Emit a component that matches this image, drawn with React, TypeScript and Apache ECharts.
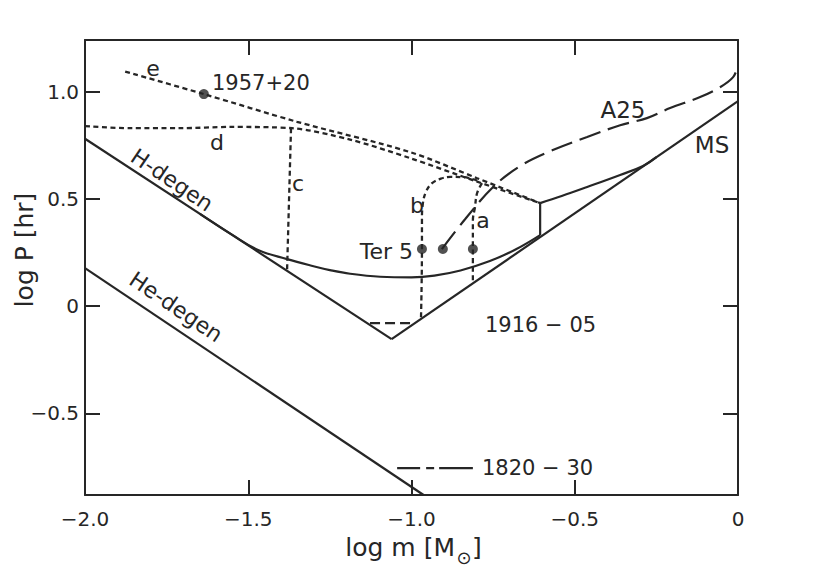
import React, { useEffect, useRef } from "react";
import * as echarts from "echarts";

// ---- axis ticks ----
const xTicks = [-2.0, -1.5, -1.0, -0.5, 0];
const yTicks = [-0.5, 0, 0.5, 1.0];

// ---- solid lines ----
const hDegen = [[-2.0, 0.78], [-1.061, -0.154]];
const msLine = [[-1.061, -0.154], [0, 0.955]];
const heDegen = [[-2.0, 0.177], [-0.963, -0.88]];
const periodMinLower = [
  [-1.648, 0.43], [-1.55, 0.333], [-1.47, 0.262], [-1.381, 0.219], [-1.3, 0.186],
  [-1.25, 0.168], [-1.188, 0.151], [-1.096, 0.137], [-1.0, 0.134], [-0.93, 0.142],
  [-0.85, 0.166], [-0.76, 0.21], [-0.68, 0.265], [-0.606, 0.331],
];
const bridge = [[-0.606, 0.331], [-0.606, 0.48]];
const periodMinUpper = [
  [-0.606, 0.48], [-0.54, 0.513], [-0.462, 0.555], [-0.361, 0.611], [-0.291, 0.653], [-0.25, 0.694],
];

// ---- evolutionary tracks (dashed) ----
const trackE = [
  [-1.877, 1.093], [-1.636, 0.988], [-1.351, 0.859], [-1.005, 0.718], [-0.799, 0.596], [-0.606, 0.48],
];
const trackD = [
  [-2.0, 0.839], [-1.862, 0.829], [-1.709, 0.829], [-1.556, 0.835], [-1.366, 0.829],
  [-1.188, 0.776], [-1.005, 0.69], [-0.799, 0.58], [-0.606, 0.48],
];
const trackC = [[-1.369, 0.829], [-1.381, 0.172]];
const trackB = [
  [-0.799, 0.585], [-0.842, 0.601], [-0.88, 0.602], [-0.91, 0.594], [-0.937, 0.573],
  [-0.955, 0.535], [-0.965, 0.48], [-0.968, 0.4], [-0.968, 0.266], [-0.971, -0.061],
];
const trackBBottom = [[-1.127, -0.079], [-0.995, -0.079]];
const trackA = [
  [-0.784, 0.573], [-0.799, 0.527], [-0.806, 0.457], [-0.812, 0.4], [-0.812, 0.266], [-0.812, 0.107],
];
const trackA25 = [
  [-0.907, 0.266], [-0.836, 0.405], [-0.75, 0.555], [-0.668, 0.652], [-0.567, 0.727],
  [-0.462, 0.788], [-0.361, 0.843], [-0.279, 0.876], [-0.208, 0.923], [-0.116, 0.974],
  [-0.055, 1.02], [-0.015, 1.067], [0, 1.12],
];
const track1820 = [[-1.044, -0.755], [-0.812, -0.755]];

// ---- observed systems ----
const dots = [[-1.636, 0.988], [-0.968, 0.266], [-0.904, 0.266], [-0.812, 0.266]];

const INK = "#262626";
const FONT = "DejaVu Sans";

const fmt = (v: number) =>
  Math.abs(v) < 1e-9 ? "0" : (v < 0 ? "\u2212" : "") + Math.abs(v).toFixed(1);

function line(data: number[][], type: any, width = 2.2, smooth: any = false) {
  return {
    type: "line",
    data,
    smooth,
    symbol: "none",
    silent: true,
    lineStyle: { color: INK, width, type, cap: "butt" },
    z: 3,
  };
}

function label(text: string, x: number, y: number, opts: any = {}) {
  return {
    type: "text",
    x,
    y,
    rotation: opts.rotation || 0,
    style: {
      text,
      fill: INK,
      font: `${opts.size || 22}px "${FONT}"`,
      align: opts.align || "center",
      verticalAlign: "middle",
    },
    z: 10,
  };
}

export default function App() {
  const ref = useRef<HTMLDivElement>(null);
  useEffect(() => {
    if (!ref.current) return;
    const chart = echarts.init(ref.current, null, { renderer: "svg" });
    const dot = [5, 3.5];
    const rot = (-34 * Math.PI) / 180;
    const axisCommon = {
      axisLine: { show: true, onZero: false, lineStyle: { color: INK, width: 2 } },
      splitLine: { show: false },
    };
    chart.setOption({
      animation: false,
      backgroundColor: "#ffffff",
      grid: { left: 85, right: 92, top: 40, bottom: 86 },
      xAxis: [
        {
          type: "value",
          min: -2,
          max: 0,
          interval: 0.5,
          ...axisCommon,
          axisTick: { show: true, inside: true, length: 15, customValues: xTicks, lineStyle: { color: INK, width: 2 } },
          axisLabel: {
            customValues: xTicks,
            formatter: fmt,
            color: INK,
            fontFamily: FONT,
            fontSize: 20,
            margin: 14,
            showMinLabel: true,
            showMaxLabel: true,
          },
        },
        {
          type: "value",
          position: "top",
          min: -2,
          max: 0,
          interval: 0.5,
          ...axisCommon,
          axisTick: { show: true, inside: true, length: 15, customValues: xTicks, lineStyle: { color: INK, width: 2 } },
          axisLabel: { show: false },
        },
      ],
      yAxis: [
        {
          type: "value",
          min: -0.88,
          max: 1.24,
          ...axisCommon,
          axisTick: { show: true, inside: true, length: 15, customValues: yTicks, lineStyle: { color: INK, width: 2 } },
          axisLabel: {
            customValues: yTicks,
            formatter: fmt,
            color: INK,
            fontFamily: FONT,
            fontSize: 20,
            margin: 6,
          },
        },
        {
          type: "value",
          position: "right",
          min: -0.88,
          max: 1.24,
          ...axisCommon,
          axisTick: { show: true, inside: true, length: 15, customValues: yTicks, lineStyle: { color: INK, width: 2 } },
          axisLabel: { show: false },
        },
      ],
      series: [
        line(hDegen, "solid"),
        line(msLine, "solid"),
        line(heDegen, "solid"),
        line(periodMinLower, "solid", 2.2, 0.4),
        line(bridge, "solid"),
        line(periodMinUpper, "solid", 2.2, 0.4),
        line(trackE, dot, 2.3, 0.3),
        line(trackD, dot, 2.3, 0.3),
        line(trackC, dot, 2.3),
        line(trackB, dot, 2.3, 0.4),
        line(trackBBottom, [10, 5], 2.2),
        line(trackA, dot, 2.3, 0.4),
        line(trackA25, [22, 8], 2.2, 0.35),
        line(track1820, [23, 6, 8, 5, 60, 1], 2.2),
        {
          type: "scatter",
          data: dots,
          symbol: "circle",
          symbolSize: 10,
          itemStyle: { color: INK },
          silent: true,
          z: 5,
        },
      ],
      graphic: [
        label("e", 153, 68),
        label("1957+20", 212, 83, { align: "left", size: 21 }),
        label("d", 217, 142),
        label("H-degen", 172, 180, { rotation: rot, size: 22 }),
        label("c", 298, 183),
        label("b", 417, 205),
        label("a", 483, 220),
        label("Ter 5", 413, 251, { align: "right" }),
        label("A25", 623, 110, { size: 23 }),
        label("MS", 712, 145, { size: 23 }),
        label("1916 \u2212 05", 485, 325, { align: "left", size: 21 }),
        label("1820 \u2212 30", 482, 468, { align: "left", size: 21 }),
        label("He-degen", 176, 307, { rotation: rot, size: 22 }),
        {
          type: "text",
          x: 24,
          y: 250,
          rotation: Math.PI / 2,
          style: {
            text: "log P [hr]",
            fill: INK,
            font: `25px "${FONT}"`,
            align: "center",
            verticalAlign: "middle",
          },
        },
        label("log m [M", 455, 547, { align: "right", size: 25 }),
        label("\u2299", 464, 557, { size: 18 }),
        label("]", 472, 547, { align: "left", size: 25 }),
      ],
    });
    return () => chart.dispose();
  }, []);
  return (
    <div
      ref={ref}
      style={{ position: "fixed", left: 0, top: 0, width: 830, height: 581, background: "#fff" }}
    />
  );
}
